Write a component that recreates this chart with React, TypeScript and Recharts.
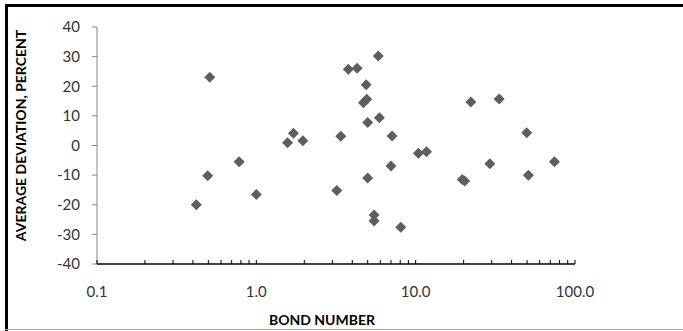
import React from 'react'
import {
	ScatterChart,
	Scatter,
	XAxis,
	YAxis,
	Label,
} from 'recharts'

// Bond number (log scale) vs average deviation
const bondNumber = [
	0.42, 0.495, 0.51, 0.78, 1.0, 1.57, 1.71, 1.96, 3.2, 3.39, 3.78, 4.29, 4.7,
	4.93, 4.89, 5.0, 5.0, 5.48, 5.48, 5.83, 5.92, 7.0, 7.11, 8.06, 10.4, 11.7,
	19.6, 20.3, 22.2, 29.2, 33.4, 49.8, 51.0, 74.3,
]
const deviation = [
	-20, -10.2, 23, -5.5, -16.5, 0.95, 4.1, 1.6, -15.2, 3.1, 25.7, 26.1, 14.4,
	15.6, 20.5, 7.8, -11.0, -23.5, -25.5, 30.2, 9.4, -6.9, 3.2, -27.6, -2.6,
	-2.1, -11.5, -12.0, 14.7, -6.2, 15.7, 4.3, -10.0, -5.5,
]

const xMajorTicks = [0.1, 1, 10, 100]
const xMinorTicks = [
	0.2, 0.3, 0.4, 0.5, 0.6, 0.7, 0.8, 0.9, 2, 3, 4, 5, 6, 7, 8, 9, 20, 30, 40,
	50, 60, 70, 80, 90,
]
const yTicks = [-40, -30, -20, -10, 0, 10, 20, 30, 40]

const data = bondNumber.map((x, i) => ({ x, y: deviation[i] }))

const FONT = 'Lato, "Open Sans", sans-serif'
const MARK = '#5e5e5e'

const Diamond = (props: any) => {
	const { cx, cy } = props
	const r = 5.5
	return (
		<polygon
			points={`${cx},${cy - r} ${cx + r},${cy} ${cx},${cy + r} ${cx - r},${cy}`}
			fill={MARK}
		/>
	)
}

const XTick = (props: any) => {
	const { x, y, payload } = props
	const major = xMajorTicks.includes(payload.value)
	return (
		<g>
			<line x1={x} y1={y} x2={x} y2={y - 4} stroke="#000" strokeWidth={1} />
			{major && (
				<text
					x={x}
					y={y + 33}
					textAnchor="middle"
					fontSize={15}
					fontFamily={FONT}
					fill="#333"
				>
					{payload.value.toFixed(1)}
				</text>
			)}
		</g>
	)
}

const YTitle = (props: any) => {
	const { viewBox } = props
	const cx = 20
	const cy = viewBox.y + viewBox.height / 2 - 10
	return (
		<text
			x={cx}
			y={cy}
			transform={`rotate(-90, ${cx}, ${cy})`}
			textAnchor="middle"
			dominantBaseline="central"
			fontSize={14}
			fontWeight="bold"
			fontFamily={FONT}
			fill="#000"
		>
			AVERAGE DEVIATION, PERCENT
		</text>
	)
}

const App = () => {
	return (
		<div
			style={{
				position: 'absolute',
				left: 0,
				top: 0,
				width: 683,
				height: 331,
				background: '#fff',
				overflow: 'hidden',
			}}
		>
			{/* frame */}
			<div style={{ position: 'absolute', left: 5, top: 4, width: 678, height: 3, background: '#000' }} />
			<div style={{ position: 'absolute', left: 5, top: 4, width: 3, height: 327, background: '#000' }} />
			<div style={{ position: 'absolute', left: 5, top: 329, width: 678, height: 1, background: '#a6a6a6' }} />

			<ScatterChart
				width={683}
				height={331}
				margin={{ top: 27, right: 108, left: 0, bottom: 27 }}
			>
				<XAxis
					dataKey="x"
					type="number"
					scale="log"
					domain={[0.1, 100]}
					ticks={[...xMajorTicks, ...xMinorTicks].sort((a, b) => a - b)}
					interval={0}
					allowDataOverflow
					axisLine={{ stroke: '#000', strokeWidth: 1.5 }}
					tickLine={false}
					tickSize={0}
					tickMargin={0}
					tick={<XTick />}
					height={40}
				>
					<Label
						value="BOND NUMBER"
						position="insideBottom"
						offset={0}
						dy={21}
						dx={-14}
						fontSize={14}
						fontWeight="bold"
						fontFamily={FONT}
						fill="#000"
					/>
				</XAxis>
				<YAxis
					dataKey="y"
					type="number"
					domain={[-40, 40]}
					ticks={yTicks}
					interval={0}
					width={97}
					axisLine={{ stroke: '#868686' }}
					tickLine={{ stroke: '#868686' }}
					tickSize={5}
					tickMargin={12}
					tick={{ fontSize: 15, fill: '#333', fontFamily: FONT }}
				>
					<Label content={<YTitle />} />
				</YAxis>
				<Scatter
					data={data}
					shape={<Diamond />}
					isAnimationActive={false}
				/>
			</ScatterChart>
		</div>
	)
}

export default App
